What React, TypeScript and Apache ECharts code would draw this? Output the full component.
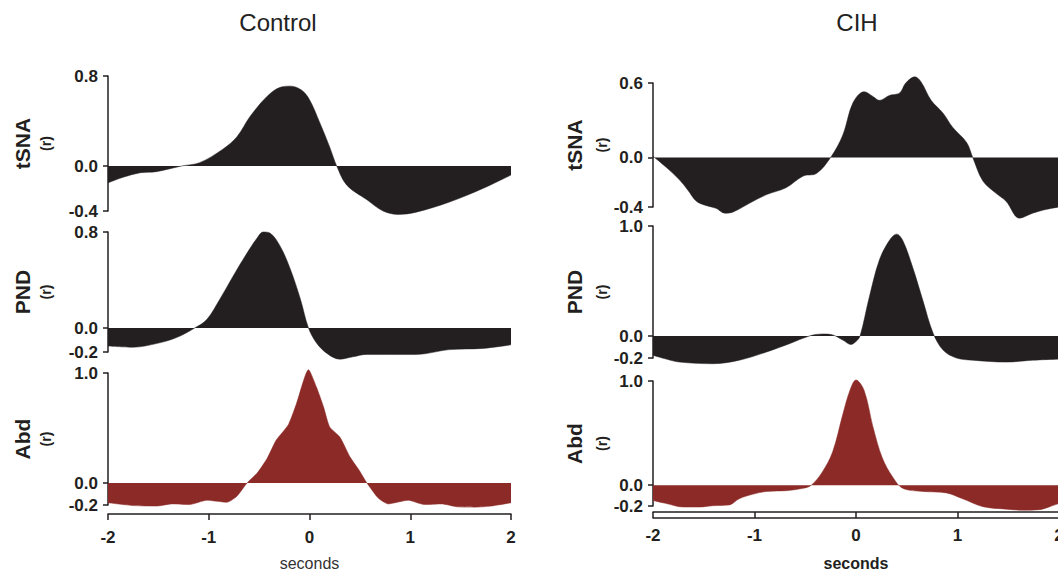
import React, { useEffect, useRef } from "react";
import * as echarts from "echarts";

// time axis (seconds) and correlation values
const CTRL_TSNA_T = [-2, -1.85, -1.68, -1.52, -1.27, -1.09, -0.86, -0.72, -0.59, -0.42, -0.29, -0.19, -0.08, 0, 0.1, 0.2, 0.27, 0.37, 0.57, 0.73, 0.88, 1.06, 1.39, 1.72, 2];
const CTRL_TSNA_V = [-0.15, -0.1, -0.06, -0.05, 0, 0.03, 0.15, 0.26, 0.44, 0.62, 0.7, 0.71, 0.675, 0.59, 0.39, 0.17, 0, -0.17, -0.3, -0.4, -0.43, -0.41, -0.32, -0.2, -0.08];

const CTRL_PND_T = [-2, -1.75, -1.52, -1.32, -1.14, -1.02, -0.89, -0.76, -0.62, -0.52, -0.46, -0.39, -0.29, -0.19, -0.09, -0.01, 0.07, 0.17, 0.3, 0.43, 0.57, 1.06, 1.39, 1.72, 2];
const CTRL_PND_V = [-0.15, -0.16, -0.13, -0.08, 0, 0.07, 0.24, 0.43, 0.625, 0.75, 0.8, 0.79, 0.68, 0.49, 0.24, 0, -0.125, -0.21, -0.26, -0.24, -0.22, -0.22, -0.18, -0.17, -0.14];

const CTRL_ABD_T = [-2, -1.75, -1.52, -1.36, -1.19, -1.02, -0.82, -0.72, -0.62, -0.52, -0.42, -0.33, -0.21, -0.13, -0.01, 0.07, 0.14, 0.2, 0.3, 0.4, 0.49, 0.57, 0.68, 0.78, 0.98, 1.14, 1.31, 1.47, 1.64, 1.8, 2];
const CTRL_ABD_V = [-0.18, -0.205, -0.21, -0.19, -0.196, -0.157, -0.175, -0.12, 0, 0.09, 0.225, 0.39, 0.53, 0.72, 1.03, 0.87, 0.69, 0.51, 0.42, 0.24, 0.12, 0, -0.135, -0.19, -0.157, -0.196, -0.19, -0.217, -0.22, -0.21, -0.18];

const CIH_TSNA_T = [-2, -1.87, -1.74, -1.66, -1.57, -1.47, -1.38, -1.29, -1.21, -1.05, -0.88, -0.69, -0.52, -0.39, -0.25, -0.13, -0.03, 0.08, 0.17, 0.23, 0.33, 0.43, 0.49, 0.58, 0.64, 0.74, 0.86, 0.95, 1.09, 1.15, 1.25, 1.38, 1.48, 1.61, 1.74, 1.87, 2];
const CIH_TSNA_V = [0.01, -0.08, -0.18, -0.26, -0.355, -0.39, -0.41, -0.45, -0.44, -0.37, -0.3, -0.245, -0.15, -0.13, 0, 0.18, 0.44, 0.53, 0.49, 0.46, 0.5, 0.52, 0.6, 0.65, 0.61, 0.46, 0.355, 0.245, 0.12, 0, -0.19, -0.29, -0.355, -0.49, -0.45, -0.42, -0.4];

const CIH_PND_T = [-2, -1.87, -1.74, -1.41, -1.15, -0.88, -0.65, -0.46, -0.33, -0.23, -0.13, -0.05, 0, 0.04, 0.13, 0.23, 0.33, 0.4, 0.46, 0.56, 0.66, 0.76, 0.86, 0.99, 1.15, 1.48, 1.74, 2];
const CIH_PND_V = [-0.175, -0.21, -0.237, -0.252, -0.22, -0.145, -0.068, 0, 0.018, 0.01, -0.037, -0.077, -0.05, 0, 0.35, 0.69, 0.87, 0.926, 0.87, 0.62, 0.32, 0.025, -0.13, -0.2, -0.22, -0.237, -0.22, -0.21];

const CIH_ABD_T = [-2, -1.87, -1.7, -1.54, -1.41, -1.25, -1.15, -1.02, -0.88, -0.69, -0.52, -0.44, -0.33, -0.23, -0.13, -0.06, 0, 0.08, 0.17, 0.26, 0.36, 0.46, 0.66, 0.89, 1.05, 1.25, 1.48, 1.64, 1.81, 1.91, 2];
const CIH_ABD_V = [-0.147, -0.176, -0.21, -0.21, -0.197, -0.19, -0.13, -0.088, -0.06, -0.053, -0.03, 0, 0.13, 0.32, 0.68, 0.91, 1.01, 0.91, 0.55, 0.26, 0.08, -0.03, -0.06, -0.074, -0.13, -0.206, -0.23, -0.24, -0.235, -0.206, -0.176];

const GROUP_TITLES = ["Control", "CIH"];
const ROW_NAMES = ["tSNA", "PND", "Abd"];
const Y_TICKS_CTRL = [[-0.4, 0, 0.8], [-0.2, 0, 0.8], [-0.2, 0, 1.0]];
const Y_TICKS_CIH = [[-0.4, 0, 0.6], [-0.2, 0, 1.0], [-0.2, 0, 1.0]];

const INK = "#231f20";
const RED = "#8b2a26";
const FONT = "'Liberation Sans', Arial, Helvetica, sans-serif";

const zip = (t: number[], v: number[]) => t.map((x, i) => [x, v[i]]);

export default function App() {
  const ref = useRef<HTMLDivElement>(null);
  useEffect(() => {
    if (!ref.current) return;
    const chart = echarts.init(ref.current, undefined, { renderer: "svg" });

    const data = [
      [zip(CTRL_TSNA_T, CTRL_TSNA_V), zip(CTRL_PND_T, CTRL_PND_V), zip(CTRL_ABD_T, CTRL_ABD_V)],
      [zip(CIH_TSNA_T, CIH_TSNA_V), zip(CIH_PND_T, CIH_PND_V), zip(CIH_ABD_T, CIH_ABD_V)],
    ];
    const yTicks = [Y_TICKS_CTRL, Y_TICKS_CIH];

    const cols = [
      { left: 108, width: 403, nameGap: 51, lh: 23, secGap: 41 },
      { left: 653, width: 406, nameGap: 38, lh: 27, secGap: 43 },
    ];
    const rows = [
      [ { top: 76, height: 135 }, { top: 232, height: 120 }, { top: 373, height: 132 } ],
      [ { top: 83, height: 124 }, { top: 226, height: 132 }, { top: 381, height: 125 } ],
    ];

    const grids: any[] = [];
    const xAxes: any[] = [];
    const yAxes: any[] = [];
    const series: any[] = [];

    for (let c = 0; c < 2; c++) {
      for (let r = 0; r < 3; r++) {
        const gi = grids.length;
        grids.push({
          left: cols[c].left,
          width: cols[c].width,
          top: rows[c][r].top,
          height: rows[c][r].height,
          containLabel: false,
          outerBoundsMode: "none",
        });
        const ticks = yTicks[c][r];
        const bottom = r === 2;
        xAxes.push({
          type: "value",
          gridIndex: gi,
          min: -2,
          max: 2,
          interval: 1,
          show: bottom,
          position: "bottom",
          offset: c === 0 ? 9 : 6,
          axisLine: { onZero: false, lineStyle: { color: INK, width: 1.5 } },
          axisTick: { show: true, inside: false, length: 6, lineStyle: { color: INK, width: 1.5 } },
          axisLabel: {
            color: INK,
            fontFamily: FONT,
            fontSize: 17,
            fontWeight: "bold",
            margin: 15,
          },
          splitLine: { show: false },
          name: "seconds",
          nameLocation: "middle",
          nameGap: cols[c].secGap,
          nameTextStyle: {
            color: c === 0 ? "#333" : INK,
            fontFamily: FONT,
            fontSize: 16,
            fontWeight: c === 0 ? "normal" : "bold",
          },
        });
        if (bottom && c === 1) {
          xAxes.push({
            type: "value",
            gridIndex: gi,
            min: -2,
            max: 2,
            position: "bottom",
            offset: 11.5,
            axisLine: { onZero: false, lineStyle: { color: INK, width: 1.5 } },
            axisTick: { show: false },
            axisLabel: { show: false },
            splitLine: { show: false },
          });
        }
        yAxes.push({
          type: "value",
          gridIndex: gi,
          min: ticks[0],
          max: ticks[ticks.length - 1],
          position: "left",
          axisLine: { show: true, onZero: false, lineStyle: { color: INK, width: 1.5 } },
          axisTick: { show: true, length: 5, customValues: ticks, lineStyle: { color: INK, width: 1.5 } },
          axisLabel: {
            customValues: ticks,
            formatter: (v: number) => v.toFixed(1),
            color: INK,
            fontFamily: FONT,
            fontSize: 17,
            fontWeight: "bold",
            margin: 10,
          },
          splitLine: { show: false },
          name: `{a|${ROW_NAMES[r]}}\n{b|(r)}`,
          nameLocation: "middle",
          nameRotate: 90,
          nameGap: cols[c].nameGap,
          nameTextStyle: {
            rich: {
              a: { fontFamily: FONT, fontSize: 21, fontWeight: "bold", color: INK, lineHeight: cols[c].lh },
              b: { fontFamily: FONT, fontSize: 14, fontWeight: "bold", color: INK, lineHeight: cols[c].lh },
            },
          },
        });
        const color = r === 2 ? RED : INK;
        series.push({
          type: "line",
          xAxisIndex: xAxes.length - (bottom && c === 1 ? 2 : 1),
          yAxisIndex: yAxes.length - 1,
          data: data[c][r],
          smooth: c === 0 && r === 2 ? 0.2 : 0.35,
          symbol: "none",
          clip: false,
          lineStyle: { color, width: 0.5 },
          areaStyle: { color, opacity: 1, origin: 0 },
        });
      }
    }

    chart.setOption({
      animation: false,
      backgroundColor: "#ffffff",
      grid: grids,
      xAxis: xAxes,
      yAxis: yAxes,
      series,
      graphic: [
        { type: "text", x: 278, y: 22, style: { text: GROUP_TITLES[0], fill: "#222", font: `24px ${FONT}`, textAlign: "center", textVerticalAlign: "middle" } },
        { type: "text", x: 857, y: 22, style: { text: GROUP_TITLES[1], fill: "#222", font: `24px ${FONT}`, textAlign: "center", textVerticalAlign: "middle" } },
      ],
    });

    return () => chart.dispose();
  }, []);

  return (
    <div
      ref={ref}
      style={{ position: "absolute", left: 0, top: 0, width: 1058, height: 571 }}
    />
  );
}
